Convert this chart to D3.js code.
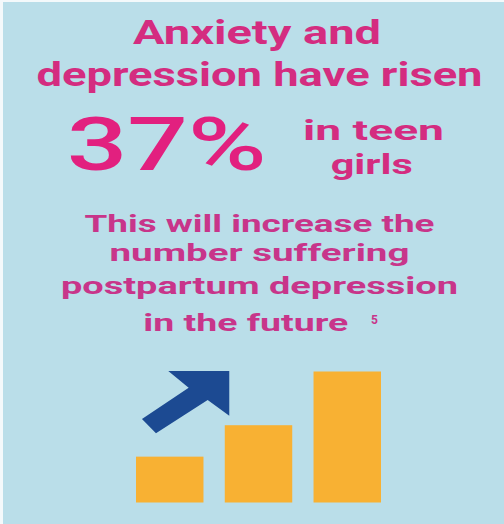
<!DOCTYPE html>
<html>
<head>
<meta charset="utf-8">
<script src="https://cdn.jsdelivr.net/npm/d3@7"></script>
<style>
  html, body { margin: 0; padding: 0; background: #ffffff; }
  svg { display: block; }
</style>
</head>
<body>
<div id="chart"></div>
<script>
// Relative level of teen-girl anxiety/depression, three steps (rising)
const steps = ["then", "now", "future"];
const levels = [35, 59, 100];

const headline = ["Anxiety and", "depression have risen"];
const bigStat = "37%";
const statTail = ["in teen", "girls"];
const bodyLines = ["This will increase the", "number suffering", "postpartum depression", "in the future"];
const footnote = "5";

const W = 504, H = 524;
const pink = "#d42c80";
const statPink = "#e2207f";
const bodyPink = "#c8358a";
const font = "Roboto, sans-serif";

const svg = d3.select("#chart").append("svg")
  .attr("width", W).attr("height", H);

// panel background with thin white edge at top and left
svg.append("rect").attr("x", 0).attr("y", 0).attr("width", W).attr("height", H).attr("fill", "#f4f9fb");
svg.append("rect").attr("x", 3).attr("y", 2).attr("width", W - 3).attr("height", H - 2).attr("fill", "#badee9");

// text helper: one line stretched to a fixed width
function line(txt, x, y, size, len, color, anchor, weight) {
  return svg.append("text")
    .attr("x", x).attr("y", y)
    .attr("text-anchor", anchor || "middle")
    .attr("font-family", font)
    .attr("font-weight", weight || 700)
    .attr("font-size", size)
    .attr("fill", color)
    .attr("textLength", len)
    .attr("lengthAdjust", "spacingAndGlyphs")
    .text(txt);
}

// headline
line(headline[0], 257, 44, 34, 248, pink);
line(headline[1], 259.5, 85.5, 34, 446, pink);

// big figure and its tail
line(bigStat, 66.7, 170, 74, 200, statPink, "start", 500);
line(statTail[0], 303, 139.5, 28, 141, pink, "start");
line(statTail[1], 330.7, 173.5, 28, 82, pink, "start");

// body copy
const bodyY = [231.5, 261, 293.5, 331];
const bodyLen = [350, 300, 397, 205];
bodyLines.forEach((t, i) => {
  if (i < 3) line(t, 259.5, bodyY[i], 24.5, bodyLen[i], bodyPink);
  else line(t, 143.3, bodyY[i], 24.5, bodyLen[i], bodyPink, "start");
});
svg.append("text")
  .attr("x", 371).attr("y", 323.5)
  .attr("font-family", font).attr("font-weight", 700).attr("font-size", 12)
  .attr("fill", bodyPink).text(footnote);

// bar icon
const x = d3.scaleBand().domain(steps).range([136, 381]).paddingInner(0.24).paddingOuter(0);
const y = d3.scaleLinear().domain([0, 100]).range([502.5, 371.5]);

svg.append("g").selectAll("rect").data(levels).join("rect")
  .attr("x", (d, i) => x(steps[i]))
  .attr("y", d => y(d))
  .attr("width", x.bandwidth())
  .attr("height", d => y(0) - y(d))
  .attr("fill", "#f8b133");

// rising arrow, tip aligned with the tallest bar top, just right of the middle bar's left edge
const arrowShape = [[0, 0], [-61, 0], [-40.6, 16.7], [-87.3, 48], [-73.3, 62.3], [-21.6, 29], [0, 44.7]];
const tipX = x(steps[1]) + 4.5, tipY = y(d3.max(levels)) - 0.5;
svg.append("path")
  .attr("d", d3.line()(arrowShape.map(p => [tipX + p[0], tipY + p[1]])) + "Z")
  .attr("fill", "#1c4a92");
</script>
</body>
</html>
